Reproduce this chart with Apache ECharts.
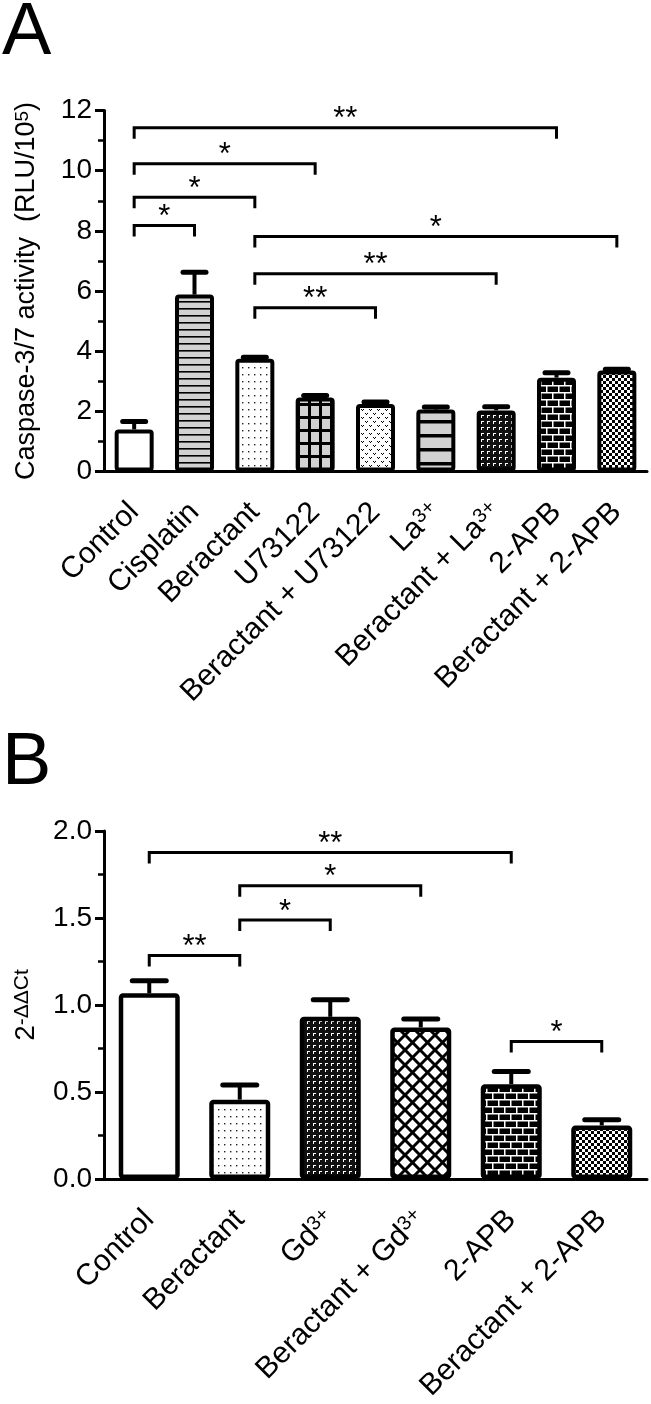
<!DOCTYPE html>
<html>
<head>
<meta charset="utf-8">
<script src="https://cdn.jsdelivr.net/npm/echarts@6/dist/echarts.min.js"></script>
<style>html,body{margin:0;padding:0;background:#fff}#c{width:651px;height:1404px}</style>
</head>
<body>
<div id="c"></div>
<script>
// ---------- Data: panel A ----------
const categoriesA = ['Control', 'Cisplatin', 'Beractant', 'U73122', 'Beractant + U73122', 'La{sup|3+}', 'Beractant + La{sup|3+}', '2-APB', 'Beractant + 2-APB'];
const valuesA = [1.40, 5.88, 3.75, 2.46, 2.24, 2.06, 2.03, 3.12, 3.36];
const errorsA = [0.26, 0.74, 0.05, 0.07, 0.07, 0.08, 0.12, 0.16, 0.04];
const yTicksA = [0, 2, 4, 6, 8, 10, 12];
// brackets: [from category, to category, height]
const bracketsA = [[0, 7, 11.43], [0, 3, 10.23], [0, 2, 9.12], [0, 1, 8.18], [2, 8, 7.81], [2, 6, 6.57], [2, 4, 5.44]];
const starsA = ['**', '*', '*', '*', '*', '**', '**'];

// ---------- Data: panel B ----------
const categoriesB = ['Control', 'Beractant', 'Gd{sup|3+}', 'Beractant + Gd{sup|3+}', '2-APB', 'Beractant + 2-APB'];
const valuesB = [1.067, 0.456, 0.932, 0.871, 0.545, 0.308];
const errorsB = [0.073, 0.084, 0.098, 0.049, 0.073, 0.032];
const yTicksB = [0.0, 0.5, 1.0, 1.5, 2.0];
const bracketsB = [[0, 4, 1.877], [1, 3, 1.685], [1, 2, 1.488], [0, 1, 1.285], [4, 5, 0.79]];
const starsB = ['**', '*', '*', '**', '*'];

// ---------- Fill patterns (style) ----------
const FONT = 'Liberation Sans, Arial, Helvetica, sans-serif';
const GRAY = '#d2d2d2';
function mk(w, h, draw) {
  const c = document.createElement('canvas');
  c.width = w; c.height = h;
  const g = c.getContext('2d');
  draw(g, w, h);
  return { image: c, repeat: 'repeat' };
}
const P = {
  blank: '#ffffff',
  hlines: mk(8, 7, (g, w, h) => { g.fillStyle = GRAY; g.fillRect(0, 0, w, h); g.fillStyle = '#000'; g.fillRect(0, 0, w, 1.6); }),
  dots: mk(6, 7, (g, w, h) => { g.fillStyle = '#fff'; g.fillRect(0, 0, w, h); g.fillStyle = '#222'; g.fillRect(2, 3, 1.4, 1.4); }),
  grid: mk(11, 13, (g, w, h) => { g.fillStyle = GRAY; g.fillRect(0, 0, w, h); g.fillStyle = '#000'; g.fillRect(0, 0, 3, h); g.fillRect(0, 0, w, 3); }),
  vmarks: mk(8, 8, (g, w, h) => {
    g.fillStyle = '#fff'; g.fillRect(0, 0, w, h); g.fillStyle = '#000';
    g.fillRect(1, 1, 1, 1); g.fillRect(3, 1, 1, 1); g.fillRect(2, 2, 1, 1);
    g.fillRect(5, 5, 1, 1); g.fillRect(7, 5, 1, 1); g.fillRect(6, 6, 1, 1);
  }),
  bands: mk(4, 14, (g, w, h) => { g.fillStyle = GRAY; g.fillRect(0, 0, w, h); g.fillStyle = '#000'; g.fillRect(0, 0, w, 3.5); }),
  gamma: mk(6, 6, (g, w, h) => {
    g.fillStyle = '#111'; g.fillRect(0, 0, w, h); g.fillStyle = '#fff';
    g.fillRect(1, 1, 3, 1); g.fillRect(1, 1, 1, 3);
  }),
  brick: mk(24, 14, (g, w, h) => {
    g.fillStyle = '#000'; g.fillRect(0, 0, w, h); g.fillStyle = '#fff';
    g.fillRect(0, 0, w, 1.5); g.fillRect(0, 7, w, 1.5);
    g.fillRect(0, 0, 1.5, 7); g.fillRect(12, 0, 1.5, 7);
    g.fillRect(6, 7, 1.5, 7); g.fillRect(18, 7, 1.5, 7);
  }),
  checker: mk(6, 6, (g, w, h) => { g.fillStyle = '#fff'; g.fillRect(0, 0, w, h); g.fillStyle = '#000'; g.fillRect(0, 0, 3, 3); g.fillRect(3, 3, 3, 3); }),
  cross: mk(15, 15, (g, w, h) => {
    g.fillStyle = '#fff'; g.fillRect(0, 0, w, h); g.strokeStyle = '#000'; g.lineWidth = 3;
    for (let k = -1; k <= 1; k++) {
      g.beginPath(); g.moveTo(k * w, 0); g.lineTo(k * w + w, h); g.stroke();
      g.beginPath(); g.moveTo(k * w + w, 0); g.lineTo(k * w, h); g.stroke();
    }
  })
};
const patternsA = ['blank', 'hlines', 'dots', 'grid', 'vmarks', 'bands', 'gamma', 'brick', 'checker'];
const patternsB = ['blank', 'dots', 'gamma', 'cross', 'brick', 'checker'];

const sup = { fontSize: 20, verticalAlign: 'top', fontFamily: FONT, color: '#000', lineHeight: 30 };

function xAxisCfg(idx, cats) {
  return {
    type: 'category', gridIndex: idx, data: cats, boundaryGap: true,
    axisLine: { lineStyle: { color: '#000', width: 3 } },
    axisTick: { alignWithLabel: true, length: 10, lineStyle: { color: '#000', width: 3 } },
    axisLabel: {
      rotate: 45, interval: 0, margin: 36, fontSize: 30, fontFamily: FONT, color: '#000',
      rich: { sup: sup }
    },
    splitLine: { show: false }
  };
}
function yAxisCfg(idx, ticks, name, gap, nameFont, fmt) {
  return {
    type: 'value', gridIndex: idx, min: ticks[0], max: ticks[ticks.length - 1],
    interval: ticks[1] - ticks[0],
    name: name, nameLocation: 'middle', nameRotate: 90, nameGap: gap,
    nameTextStyle: { fontSize: nameFont[0], fontFamily: FONT, color: '#000',
      rich: { sup: { fontSize: nameFont[1], verticalAlign: 'top', fontFamily: FONT, color: '#000' } } },
    axisLine: { show: true, lineStyle: { color: '#000', width: 3 } },
    axisTick: { show: true, length: 9, lineStyle: { color: '#000', width: 3 } },
    minorTick: { show: true, splitNumber: 2, length: 6, lineStyle: { color: '#000', width: 2.5 } },
    axisLabel: { margin: 12, fontSize: 28, fontFamily: FONT, color: '#000', formatter: fmt },
    splitLine: { show: false }
  };
}
function barSeries(idx, vals, pats, width, bw) {
  return {
    type: 'bar', xAxisIndex: idx, yAxisIndex: idx, barWidth: width, z: 3,
    data: vals.map((v, i) => ({ value: v, itemStyle: { color: P[pats[i]] } })),
    itemStyle: { borderColor: '#000', borderWidth: bw, borderRadius: 2 },
    emphasis: { disabled: true }, animation: false
  };
}
function errSeries(idx, vals, errs, capW) {
  return {
    type: 'custom', xAxisIndex: idx, yAxisIndex: idx, z: 2, clip: false, animation: false,
    data: vals.map((v, i) => [i, v, errs[i]]),
    encode: { x: 0, y: 1 },
    renderItem: function (params, api) {
      const x = api.value(0), v = api.value(1), e = api.value(2);
      const p0 = api.coord([x, v]);
      const p1 = api.coord([x, v + e]);
      return {
        type: 'group', children: [
          { type: 'line', shape: { x1: p0[0], y1: p0[1], x2: p1[0], y2: p1[1] }, style: { stroke: '#000', lineWidth: 4 } },
          { type: 'line', shape: { x1: p1[0] - capW / 2, y1: p1[1], x2: p1[0] + capW / 2, y2: p1[1] }, style: { stroke: '#000', lineWidth: 5, lineCap: 'round' } }
        ]
      };
    }
  };
}
function bracketSeries(idx, brackets, stars) {
  return {
    type: 'custom', xAxisIndex: idx, yAxisIndex: idx, z: 4, clip: false, animation: false,
    data: brackets.map(b => [b[0], b[1], b[2]]),
    encode: { x: [0, 1], y: 2 },
    renderItem: function (params, api) {
      const a = api.coord([api.value(0), api.value(2)]);
      const b = api.coord([api.value(1), api.value(2)]);
      const leg = 11;
      return {
        type: 'group', children: [
          { type: 'polyline', shape: { points: [[a[0], a[1] + leg], [a[0], a[1]], [b[0], b[1]], [b[0], b[1] + leg]] },
            style: { stroke: '#000', lineWidth: 3, fill: null } },
          { type: 'text', x: (a[0] + b[0]) / 2, y: a[1] - 8,
            style: { text: stars[params.dataIndex], fontSize: 31, fontFamily: FONT, fill: '#000', align: 'center', verticalAlign: 'middle' } }
        ]
      };
    }
  };
}

const chart = echarts.init(document.getElementById('c'), null, { renderer: 'canvas' });
chart.setOption({
  animation: false,
  backgroundColor: '#fff',
  grid: [
    { left: 104, top: 110.5, width: 543, height: 361 },
    { left: 104, top: 831, width: 543, height: 361 }
  ],
  graphic: [
    { type: 'text', left: 2, top: -3, style: { text: 'A', fontSize: 74, fontFamily: FONT, fill: '#000' } },
    { type: 'text', left: 2, top: 727, style: { text: 'B', fontSize: 74, fontFamily: FONT, fill: '#000' } }
  ],
  xAxis: [xAxisCfg(0, categoriesA), xAxisCfg(1, categoriesB)],
  yAxis: [
    yAxisCfg(0, yTicksA, 'Caspase-3/7 activity  (RLU/10{sup|5})', 64, [27, 19], v => String(v)),
    yAxisCfg(1, yTicksB, '2{sup|-ΔΔCt}', 64, [28, 21], v => v.toFixed(1))
  ],
  series: [
    errSeries(0, valuesA, errorsA, 23),
    barSeries(0, valuesA, patternsA, 39, 4),
    bracketSeries(0, bracketsA, starsA),
    errSeries(1, valuesB, errorsB, 34),
    barSeries(1, valuesB, patternsB, 61, 4.5),
    bracketSeries(1, bracketsB, starsB)
  ]
});
</script>
</body>
</html>
